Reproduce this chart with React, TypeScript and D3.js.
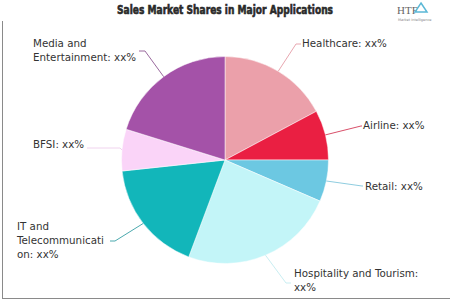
import React from "react";
import * as d3 from "d3";

const categories = [
  "Healthcare",
  "Airline",
  "Retail",
  "Hospitality and Tourism",
  "IT and Telecommunication",
  "BFSI",
  "Media and Entertainment",
];
const shares = [17.2, 7.8, 6.5, 24.2, 17.6, 6.5, 20.2];
const labelText = [
  ["Healthcare: xx%"],
  ["Airline: xx%"],
  ["Retail: xx%"],
  ["Hospitality and Tourism:", "xx%"],
  ["IT and", "Telecommunicati", "on: xx%"],
  ["BFSI: xx%"],
  ["Media and", "Entertainment: xx%"],
];
const colors = ["#EBA0AA", "#EA1F42", "#6CC8E2", "#C3F5F8", "#12B6BA", "#FAD4F8", "#A452A8"];
const lineColors = ["#E8A7B0", "#D9506A", "#8FCDE0", "#C9EEF2", "#4BA9AE", "#F0D3EE", "#9A6A9E"];

// label layout: elbow point, text start x, first baseline
const labelLayout = [
  { ex: 296, ey: 44, hx: 301, tx: 302, ty: 47 },
  { ex: 361, ey: 126, hx: 362, tx: 363, ty: 129 },
  { ex: 362, ey: 186, hx: 363, tx: 365, ty: 190 },
  { ex: 286, ey: 283, hx: 291, tx: 294, ty: 277 },
  { ex: 115, ey: 241, hx: 110, tx: 17, ty: 230 },
  { ex: 120, ey: 148, hx: 87, tx: 33, ty: 148 },
  { ex: 145, ey: 51, hx: 139, tx: 33, ty: 47 },
];

const W = 450;
const H = 300;
const cx = 225;
const cy = 160;
const R = 103.5;

export default function App() {
  const data = categories.map((c, i) => ({ c, v: shares[i], i }));
  const pie = d3.pie<any>().value((d) => d.v).sort(null);
  const arcs = pie(data);
  const arc = d3.arc<any>().innerRadius(0).outerRadius(R);
  const lineHeight = 14;

  return (
    <svg
      width={W}
      height={H}
      style={{ position: "absolute", left: 0, top: 0, background: "#fff" }}
      fontFamily="'DejaVu Sans', Verdana, sans-serif"
    >
      <text
        x={225}
        y={14}
        textAnchor="middle"
        fontFamily="'Liberation Sans Narrow', 'DejaVu Sans Condensed', 'Liberation Sans', sans-serif"
        fontWeight="bold"
        fontSize={13}
        fill="#2a2a2a"
        stroke="#2a2a2a"
        strokeWidth={0.6}
        textLength={216}
        lengthAdjust="spacingAndGlyphs"
      >
        Sales Market Shares in Major Applications
      </text>
      <g>
        <text x={397} y={14} fontFamily="'Liberation Serif', serif" fontSize={11} fill="#666">
          HTF
        </text>
        <path d="M421,3 L427,12 L415,12 Z" fill="none" stroke="#5bb8d6" strokeWidth={1.5} />
        <text x={398} y={21} fontSize={3.5} fill="#888">
          Market Intelligence
        </text>
      </g>
      <line x1={2.5} y1={21} x2={2.5} y2={298.5} stroke="#8a8a8a" strokeWidth={1} />
      <line x1={2} y1={298.5} x2={450} y2={298.5} stroke="#8a8a8a" strokeWidth={1} />
      <g transform={`translate(${cx},${cy})`}>
        {arcs.map((a, i) => (
          <path key={i} d={arc(a) as string} fill={colors[i]} stroke="#fff" strokeWidth={0.5} />
        ))}
      </g>
      {arcs.map((a, i) => {
        const mid = (a.startAngle + a.endAngle) / 2;
        const px = cx + Math.sin(mid) * R;
        const py = cy - Math.cos(mid) * R;
        const L = labelLayout[i];
        return (
          <g key={i}>
            <polyline
              points={`${px},${py} ${L.ex},${L.ey} ${L.hx},${L.ey}`}
              fill="none"
              stroke={lineColors[i]}
              strokeWidth={1}
            />
            <text x={L.tx} y={L.ty} fontSize={10.3} fill="#333">
              {labelText[i].map((t, k) => (
                <tspan key={k} x={L.tx} y={L.ty + k * lineHeight}>
                  {t}
                </tspan>
              ))}
            </text>
          </g>
        );
      })}
    </svg>
  );
}
